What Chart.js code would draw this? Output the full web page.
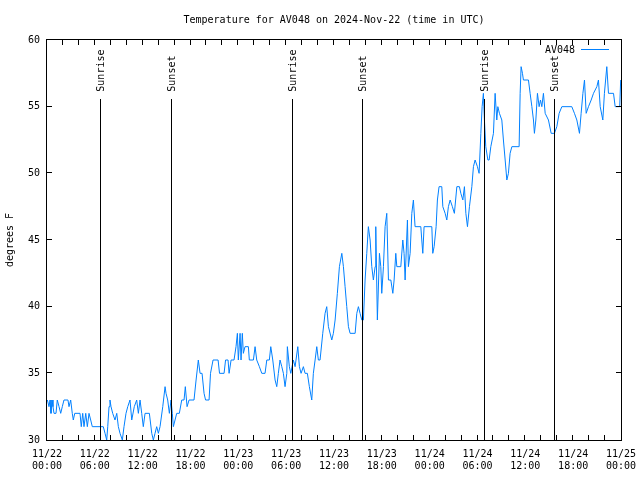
<!DOCTYPE html>
<html>
<head>
<meta charset="utf-8">
<script src="https://cdn.jsdelivr.net/npm/chart.js@4.4.1/dist/chart.umd.min.js"></script>
<style>
html,body{margin:0;padding:0;background:#ffffff;}
#wrap{width:640px;height:480px;}
</style>
</head>
<body>
<div id="wrap"><canvas id="c" width="640" height="480"></canvas></div>
<script>
// ---------- data (hours since 2024-11-22 00:00 UTC, temperature in F) ----------
const chartTitle = "Temperature for AV048 on 2024-Nov-22 (time in UTC)";
const seriesName = "AV048";
const yAxisTitle = "degrees F";

const hours = [
  0.05,0.25,0.38,0.50,0.63,0.75,0.88,1.13,1.29,1.51,1.72,1.92,2.13,2.63,2.76,2.97,3.17,3.30,3.48,4.14,4.30,4.48,4.64,4.86,5.06,5.27,5.48,5.68,6.74,
  7.06,7.28,7.49,7.62,7.78,7.90,8.03,8.24,8.53,8.75,8.95,9.16,9.45,9.66,9.91,10.13,10.41,10.63,10.95,11.25,11.46,11.67,11.88,12.08,12.30,12.84,13.14,13.34,13.55,13.76,
  13.97,14.18,14.52,14.81,14.93,15.14,15.35,15.56,15.72,15.85,16.06,16.27,16.60,16.90,17.19,17.35,17.57,17.82,18.44,18.70,18.98,19.20,19.45,19.70,19.89,20.33,20.51,20.83,21.46,21.64,
  22.21,22.40,22.71,22.84,23.09,23.46,
  23.71,23.88,24.00,24.22,24.34,24.50,24.63,24.84,25.26,25.38,25.89,26.10,26.31,26.64,26.94,27.35,27.57,27.89,28.07,28.32,
  28.61,28.82,29.02,29.23,29.45,29.65,29.86,30.08,30.15,30.40,30.58,30.90,31.12,31.46,31.66,31.87,32.16,32.37,32.66,32.91,
  33.21,33.41,33.63,33.84,34.04,34.25,34.59,34.88,35.09,35.30,35.72,35.92,36.14,36.42,36.68,36.98,37.18,37.39,37.60,37.81,
  38.02,38.65,38.86,39.06,39.27,39.49,39.69,39.90,40.11,40.31,40.53,40.74,40.94,41.16,41.24,41.44,41.70,41.87,41.99,42.20,
  42.41,42.62,42.83,43.13,43.38,43.54,43.75,43.88,44.38,44.63,44.79,44.92,45.21,45.33,45.55,45.76,45.96,46.17,46.89,47.01,
  47.14,47.30,
  48.27,48.39,48.56,48.81,48.97,49.18,49.52,49.65,49.94,50.15,50.35,50.57,50.85,51.10,51.41,51.73,51.91,52.16,52.36,52.54,
  52.74,52.99,53.29,53.49,53.70,53.99,54.20,54.42,54.58,54.74,54.87,55.04,55.30,55.46,55.67,56.00,56.21,56.42,56.55,56.75,
  57.05,57.25,57.47,57.68,57.88,58.09,58.31,59.22,59.35,
  59.47,59.64,59.76,60.39,60.60,60.82,61.02,61.14,61.32,61.52,61.73,61.90,62.07,62.27,62.49,62.90,63.24,63.65,63.95,64.24,
  64.58,65.83,66.16,66.46,66.79,67.00,67.22,67.42,67.63,67.92,68.26,68.55,68.97,69.17,69.39,69.72,69.92,70.22,70.43,71.06,
  71.27,71.61,71.84,71.96
];

const tempsF = [
  33,32.5,33,32,33,32.5,32,32,33,32.5,32,32.5,33,33,32.5,33,32,31.5,32,32,31,32,31,32,31,32,31.5,31,31,
  31,30.5,30,31,32.5,33,32.5,32,31.5,32,31,30.5,30,31,32,32.5,33,31.5,32.5,33,32,33,32,31,32,32,30.5,30,30.5,31,
  30.5,31,32.5,34,33.5,33,32,33,32,31,31.5,32,32,33,33,34,32.5,33,33,34.5,36,35,35,33.5,33,33,35,36,36,35,
  35,36,36,35,36,36,
  37,38,36,38,36,38,36.5,37,37,36,36,37,36,35.5,35,35,36,36,37,36,
  34.5,34,35,36,35.5,35,34,35,37,35.5,35,36,35.5,37,35.5,35,35.5,35,35,34,
  33,35,36,37,36,36,38,39.5,40,38.5,37.5,38,39,41,43,44,43,41.5,40,38.5,
  38,38,39.5,40,39.5,39,39,42,44,46,45,43,42,43,46,39,44,43,41,43,
  46,47,42,42,41,42,44,43,43,45,44,42,46.5,43,44,47,48,46,46,45,
  44,46,
  46,44,44.5,46,48,49,49,47.5,47,46.5,47.5,48,47.5,47,49,49,48.5,48,49,47,
  46,47.5,49,50.5,51,50.5,50,53,55,56,54,52,51,51,52,53,56,54,55,54.5,
  54,52.5,51,49.5,50,51.5,52,52,56,
  58,57.5,57,57,56,55,54,53,54,56,55,55.5,55,56,54.5,54,53,53,53.5,54.5,
  55,55,54.5,54,53,54.5,56,57,54.5,55,55.5,56,56.5,57,55,54,56,58,56,56,
  55,55,55,57
];

const xTickHours = [0,6,12,18,24,30,36,42,48,54,60,66,72];
const xTickDates = ["11/22","11/22","11/22","11/22","11/23","11/23","11/23","11/23","11/24","11/24","11/24","11/24","11/25"];
const xTickTimes = ["00:00","06:00","12:00","18:00","00:00","06:00","12:00","18:00","00:00","06:00","12:00","18:00","00:00"];
const yTickValues = [30,35,40,45,50,55,60];

const sunEventHours = [6.69,15.60,30.78,39.56,54.87,63.65];
const sunEventLabels = ["Sunrise","Sunset","Sunrise","Sunset","Sunrise","Sunset"];
const sunLineTopF = 55.6;

// ---------- styling ----------
const FONT = '"DejaVu Sans Mono", "Liberation Mono", monospace';
const LINE_COLOR = '#0080ff';
Chart.defaults.font.family = FONT;
Chart.defaults.font.size = 10;
Chart.defaults.color = '#000000';

const gnuplotDecor = {
  id: 'gnuplotDecor',
  afterDatasetsDraw(chart) {
    const {ctx, chartArea: a, scales: {x, y}} = chart;
    ctx.save();
    ctx.font = '10px ' + FONT;
    ctx.fillStyle = '#000';
    ctx.strokeStyle = '#000';
    ctx.lineWidth = 1;

    // sunrise / sunset markers
    const topPx = y.getPixelForValue(sunLineTopF);
    sunEventHours.forEach((h, i) => {
      const px = Math.floor(x.getPixelForValue(h)) + 0.5;
      ctx.beginPath();
      ctx.moveTo(px, Math.round(topPx));
      ctx.lineTo(px, a.bottom);
      ctx.stroke();
      ctx.save();
      ctx.translate(px + 1, topPx - 7);
      ctx.rotate(-Math.PI / 2);
      ctx.textAlign = 'left';
      ctx.textBaseline = 'middle';
      ctx.fillText(sunEventLabels[i], 0, 0);
      ctx.restore();
    });

    // frame
    ctx.strokeRect(a.left - 0.5, a.top - 0.5, a.right - a.left + 1, a.bottom - a.top + 1);

    // inward tick marks (x every 2 h, y every 5 F)
    ctx.beginPath();
    for (let h = 2; h < 72; h += 2) {
      const px = Math.round(x.getPixelForValue(h)) - 0.5;
      ctx.moveTo(px, a.bottom); ctx.lineTo(px, a.bottom - 5);
      ctx.moveTo(px, a.top); ctx.lineTo(px, a.top + 5);
    }
    yTickValues.slice(1, -1).forEach(v => {
      const py = Math.round(y.getPixelForValue(v)) - 0.5;
      ctx.moveTo(a.left, py); ctx.lineTo(a.left + 5, py);
      ctx.moveTo(a.right, py); ctx.lineTo(a.right - 5, py);
    });
    ctx.stroke();

    // key
    ctx.textAlign = 'right';
    ctx.textBaseline = 'middle';
    ctx.fillText(seriesName, a.right - 46, a.top + 10);
    ctx.strokeStyle = LINE_COLOR;
    ctx.beginPath();
    ctx.moveTo(a.right - 40, a.top + 9.5);
    ctx.lineTo(a.right - 12, a.top + 9.5);
    ctx.stroke();
    ctx.restore();
  }
};

new Chart(document.getElementById('c'), {
  type: 'line',
  data: {
    datasets: [{
      label: seriesName,
      data: hours.map((h, i) => ({x: h, y: tempsF[i]})),
      borderColor: LINE_COLOR,
      borderWidth: 1,
      pointRadius: 0,
      fill: false,
      tension: 0
    }]
  },
  options: {
    responsive: false,
    animation: false,
    devicePixelRatio: 1,
    layout: {padding: {left: 0, right: 19, top: 0, bottom: 0}},
    plugins: {
      legend: {display: false},
      tooltip: {enabled: false},
      title: {
        display: true,
        text: chartTitle,
        fullSize: false,
        color: '#000',
        font: {family: FONT, size: 10, weight: 'normal', lineHeight: 1.2},
        padding: {top: 14, bottom: 14}
      }
    },
    scales: {
      x: {
        type: 'linear',
        min: 0, max: 72,
        grid: {display: false, drawTicks: false},
        border: {display: false},
        afterBuildTicks: s => { s.ticks = xTickHours.map(v => ({value: v})); },
        afterFit: s => { s.height = 40; s.paddingLeft = 0; s.paddingRight = 0; },
        ticks: {
          autoSkip: false, maxRotation: 0, minRotation: 0,
          padding: 8,
          font: {family: FONT, size: 10, lineHeight: 1.25},
          callback: (v) => { const i = xTickHours.indexOf(v); return i >= 0 ? [xTickDates[i], xTickTimes[i]] : ''; }
        }
      },
      y: {
        min: 30, max: 60,
        grid: {display: false, drawTicks: false},
        border: {display: false},
        afterBuildTicks: s => { s.ticks = yTickValues.map(v => ({value: v})); },
        afterFit: s => { s.width = 47; s.paddingTop = 0; s.paddingBottom = 0; },
        ticks: {
          padding: 7,
          font: {family: FONT, size: 10},
          callback: v => String(v)
        },
        title: {
          display: true,
          text: yAxisTitle,
          font: {family: FONT, size: 10, lineHeight: 1.2},
          padding: {top: 4, bottom: 0}
        }
      }
    }
  },
  plugins: [gnuplotDecor]
});
</script>
</body>
</html>
